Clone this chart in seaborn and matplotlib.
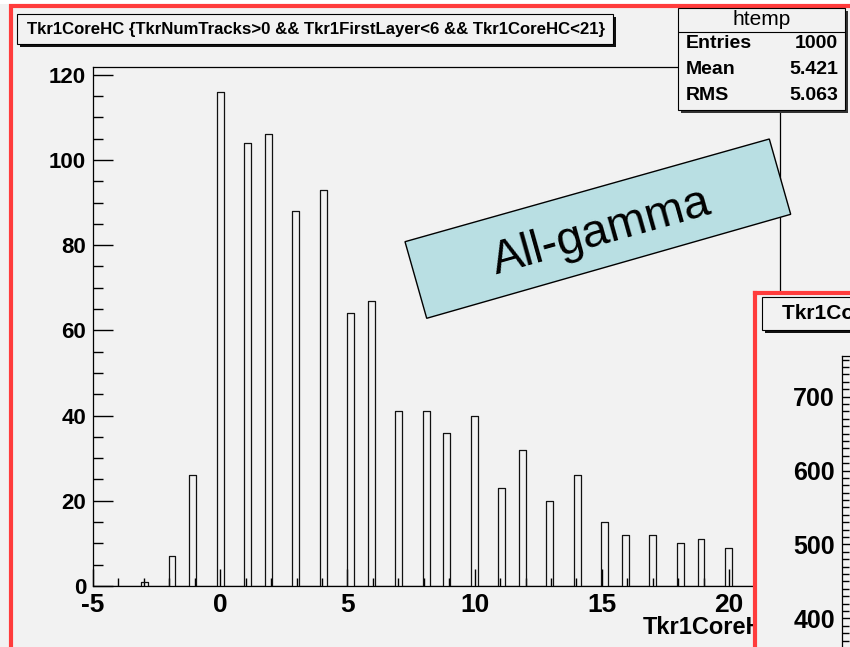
import numpy as np
import pandas as pd
import matplotlib
matplotlib.use('Agg')
import matplotlib.pyplot as plt
import seaborn as sns
from matplotlib.patches import Rectangle, Polygon
from matplotlib.lines import Line2D

# ---------------- data ----------------
values = [-3, -2, -1, 0, 1, 2, 3, 4, 5, 6, 7, 8, 9, 10, 11, 12, 13, 14, 15, 16, 17, 18, 19, 20]
counts = [1, 7, 26, 116, 104, 106, 88, 93, 64, 67, 41, 41, 36, 40, 23, 32, 20, 26, 15, 12, 12, 10, 11, 9]
xticks = [-5, 0, 5, 10, 15, 20]
yticks = [0, 20, 40, 60, 80, 100, 120]
inset_yticks = [400, 500, 600, 700]
title = "Tkr1CoreHC {TkrNumTracks>0 && Tkr1FirstLayer<6 && Tkr1CoreHC<21}"
xlabel = "Tkr1CoreHC"
stats_name = "htemp"
stats_labels = ["Entries", "Mean", "RMS"]
stats_values = ["1000", "5.421", "5.063"]
note = "All-gamma"

W, H = 850, 647
BG = '#f2f2f2'
RED = '#ff3c3c'
BLUE = '#b9dfe3'

sns.set_theme(style='ticks')
plt.rcParams['font.family'] = ['Liberation Sans', 'DejaVu Sans']
plt.rcParams['font.weight'] = 'bold'
plt.rcParams['axes.linewidth'] = 0.9
plt.rcParams['axes.unicode_minus'] = False
for k in ['text.color', 'axes.labelcolor', 'xtick.color', 'ytick.color',
          'xtick.labelcolor', 'ytick.labelcolor', 'axes.edgecolor']:
    plt.rcParams[k] = 'black'

fig = plt.figure(figsize=(W / 100, H / 100), dpi=100, facecolor=BG)


def fx(x):
    return x / W


def fy(y):
    return 1 - y / H


def rect(x0, y0, x1, y1):
    return [fx(x0), fy(y1), (x1 - x0) / W, (y1 - y0) / H]


def fig_rect(x0, y0, x1, y1, **kw):
    r = Rectangle((fx(x0), fy(y1)), (x1 - x0) / W, (y1 - y0) / H,
                  transform=fig.transFigure, **kw)
    fig.patches.append(r)
    return r


# ---------------- main histogram ----------------
ax = fig.add_axes(rect(93, 67, 780, 586))
ax.set_facecolor(BG)
df = pd.DataFrame({'value': values, 'count': counts})
edges = [float(e) for e in np.linspace(-5, 22, 101)]
sns.histplot(data=df, x='value', weights='count', bins=edges, element='step',
             fill=False, color='#111111', linewidth=0.9, ax=ax)
ax.set_xlim(-5, 22)
ax.set_ylim(0, max(counts) * 1.05)
for s in ax.spines.values():
    s.set_visible(True)
    s.set_color('black')
ax.set_xticks(xticks)
ax.set_xticks(np.arange(-5, 23, 1), minor=True)
ax.set_yticks(yticks)
ax.set_yticks(np.arange(0, 125, 5), minor=True)
ax.tick_params(axis='x', which='major', direction='in', length=12, width=1,
               labelsize=19, pad=5, top=False, color='black', labelcolor='black')
ax.tick_params(axis='x', which='minor', direction='in', length=6, width=1,
               top=False, color='black')
ax.tick_params(axis='y', which='major', direction='in', length=14.4, width=1,
               labelsize=16, pad=5, right=False, color='black', labelcolor='black')
ax.tick_params(axis='y', which='minor', direction='in', length=7.2, width=1,
               right=False, color='black')
ax.set_ylabel('')
ax.set_xlabel(xlabel, fontsize=17, fontweight='bold', color='black')
ax.xaxis.label.set_horizontalalignment('right')
ax.xaxis.label.set_verticalalignment('center')
ax.xaxis.set_label_coords(1.0, -(627 - 586) / (586 - 67))

# ---------------- pad decorations ----------------
fig_rect(0, 0, W, 4, facecolor='white', edgecolor='none', zorder=1)
fig_rect(10.5, 6, 920, 720, facecolor='none', edgecolor=RED, linewidth=3, zorder=2)

# title box
fig_rect(20, 17, 616, 47, facecolor='#111111', edgecolor='none', zorder=3)
fig_rect(17, 14, 613, 44, facecolor=BG, edgecolor='black', linewidth=0.8, zorder=3.1)
fig.text(fx(316), fy(29.5), title, ha='center', va='center', fontsize=12.1,
         fontweight='bold', color='black', zorder=3.2)

# stats box
fig_rect(681, 11, 848, 113, facecolor='#333333', edgecolor='none', zorder=3)
fig_rect(678, 8, 845, 110, facecolor=BG, edgecolor='black', linewidth=0.8, zorder=3.1)
fig.lines.append(Line2D([fx(678), fx(845)], [fy(32), fy(32)], transform=fig.transFigure,
                        color='black', linewidth=0.8, zorder=3.2))
fig.text(fx(762), fy(19.5), stats_name, ha='center', va='center', fontsize=15,
         fontweight='normal', color='black', zorder=3.3)
for i, (lab, val) in enumerate(zip(stats_labels, stats_values)):
    yy = 44 + 26 * i
    fig.text(fx(686), fy(yy), lab, ha='left', va='center', fontsize=14,
             fontweight='bold', color='black', zorder=3.3)
    fig.text(fx(838), fy(yy), val, ha='right', va='center', fontsize=14,
             fontweight='bold', color='black', zorder=3.3)

# rotated note box
corners = [(405, 241.7), (769.3, 139), (790.7, 214.3), (426.7, 318.3)]
poly = Polygon([(fx(a), fy(b)) for a, b in corners], closed=True,
               transform=fig.transFigure, facecolor=BLUE, edgecolor='black',
               linewidth=1.0, zorder=3)
fig.patches.append(poly)
fig.text(fx(601), fy(232), note, ha='center', va='center', fontsize=34,
         fontweight='normal', color='black', rotation=15.7,
         rotation_mode='anchor', zorder=3.5)

# ---------------- second (clipped) pad ----------------
pad = fig.add_axes(rect(755, 293, 960, 760), zorder=10)
pad.set_facecolor(BG)
pad.set_xticks([])
pad.set_yticks([])
for s in pad.spines.values():
    s.set_color(RED)
    s.set_linewidth(3)

ax2 = fig.add_axes(rect(842, 356, 960, 700), zorder=11)
ax2.set_facecolor(BG)
ax2.set_xlim(0, 1)
ax2.set_ylim(755 - (700 - 356) / 0.739, 755)
ax2.set_xticks([])
ax2.set_yticks(inset_yticks)
ax2.set_yticks(np.arange(300, 760, 10), minor=True)
for s in ax2.spines.values():
    s.set_color('black')
ax2.tick_params(axis='y', which='major', direction='in', length=14, width=1,
                labelsize=18, pad=5, right=False, labelcolor='black')
ax2.tick_params(axis='y', which='minor', direction='in', length=5, width=1, right=False)

fig_rect(765, 300, 960, 333, facecolor='#111111', edgecolor='none', zorder=12)
fig_rect(762, 297, 958, 330, facecolor=BG, edgecolor='black', linewidth=0.8, zorder=12.1)
fig.text(fx(782), fy(314), title, ha='left', va='center', fontsize=15,
         fontweight='bold', color='black', zorder=12.2)

fig.savefig('out.png', dpi=100, facecolor=BG)
